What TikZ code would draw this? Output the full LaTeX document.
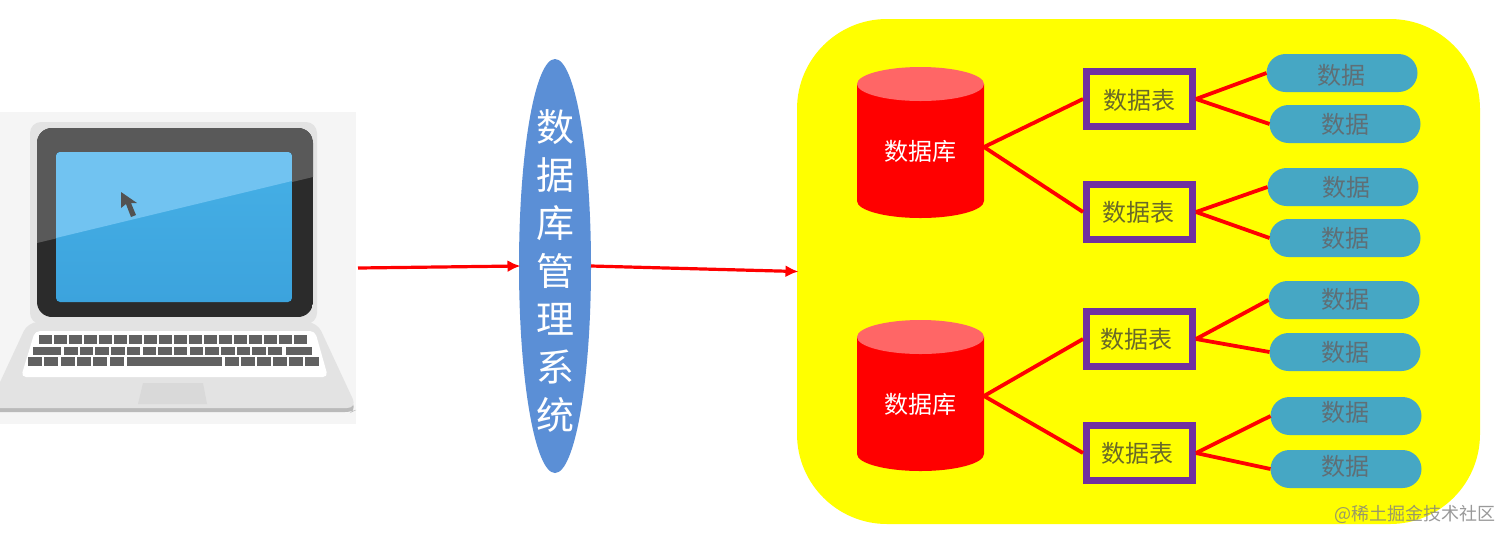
\documentclass[tikz,border=0pt]{standalone}
\usepackage{fontspec}
\setmainfont{Noto Sans CJK SC}
\usetikzlibrary{shapes.geometric,shapes.misc,arrows.meta}
\definecolor{wire}{HTML}{FF0000}
\definecolor{bgyellow}{HTML}{FFFF00}
\definecolor{cylred}{HTML}{FF0000}
\definecolor{cyltop}{HTML}{FF6666}
\definecolor{purp}{HTML}{7030A0}
\definecolor{pillc}{HTML}{46A7C4}
\definecolor{pilltxt}{HTML}{5F6F76}
\definecolor{tabtxt}{HTML}{6A6A28}
\definecolor{dbmsc}{HTML}{5B8FD6}
\definecolor{screenhi}{HTML}{71C3F1}
\definecolor{screena}{HTML}{46B0E6}
\definecolor{screenb}{HTML}{3CA3DD}
\tikzset{
  link/.style={draw=wire,line width=3.8pt},
  flow/.style={draw=wire,line width=3.2pt,shorten >=-1.5pt,-{Latex[length=13pt,width=12pt]}},
  dbnode/.style={rectangle,inner sep=0pt,outer sep=0pt,minimum width=127pt,minimum height=142pt,text=white,font=\fontsize{24}{28}\selectfont},
  tablenode/.style={rectangle,draw=purp,line width=7pt,fill=bgyellow,minimum width=106pt,minimum height=55pt,inner sep=0pt,text=tabtxt,font=\fontsize{24}{28}\selectfont},
  pill/.style={rounded rectangle,fill=pillc,inner sep=0pt,outer sep=0pt,minimum width=151pt,minimum height=38pt,text=pilltxt,font=\fontsize{24}{28}\selectfont},
}
\newcommand{\cylshape}[2]{% centre x, top y
  \fill[cylred] (#1-63.5,#2+17) -- (#1-63.5,#2+134) arc[start angle=180,end angle=0,x radius=63.5,y radius=17] -- (#1+63.5,#2+17) -- cycle;
  \fill[cyltop] (#1,#2+17) ellipse[x radius=63.5,y radius=17];
}
% text offset from a node's centre: dx (right), dy (down), text
\newcommand{\offtext}[3]{\makebox[0pt]{\kern#1pt\kern#1pt\raisebox{\dimexpr-#2pt-9pt\relax}[0pt][0pt]{#3}}}
\begin{document}
\begin{tikzpicture}[x=1pt,y=-1pt]
\useasboundingbox (0,0) rectangle (1512,542);
\fill[white] (0,0) rectangle (1512,542);
% laptop
\node[rectangle,fill=black!4,inner sep=0pt,outer sep=0pt,minimum width=356pt,minimum height=312pt] (laptop) at (178,268) {};
\begin{scope}
  \path[clip] (0,112) rectangle (356,424);
  \fill[black!27,rounded corners=7pt] (30,325) -- (315,325) -- (356,410) -- (352,412) -- (-12,412) -- cycle;
  \fill[black!11,rounded corners=10pt] (28,322) -- (317,322) -- (357,408) -- (-12,408) -- cycle;
\end{scope}
\fill[black!15] (143,383) -- (203,383) -- (207,404) -- (138,404) -- cycle;
\fill[black!11,rounded corners=11pt] (30,122) rectangle (317,324);
\begin{scope}
  \path[clip,rounded corners=15pt] (37,128) rectangle (313,317);
  \fill[black!83] (37,128) rectangle (313,317);
  \fill[black!65] (37,128) -- (313,128) -- (313,177) -- (37,243) -- cycle;
\end{scope}
\begin{scope}
  \path[clip,rounded corners=4pt] (56,152) rectangle (292,302);
  \fill[top color=screena,bottom color=screenb] (56,152) rectangle (292,302);
  \fill[screenhi] (56,152) -- (292,152) -- (292,181) -- (56,238) -- cycle;
\end{scope}
\fill[black!68] (121,192) -- (121,208) -- (126,204) -- (131,217) -- (136,215) -- (131,203) -- (137,203) -- cycle;
\fill[white,rounded corners=5pt] (35,331) -- (315,331) -- (328,377) -- (21,377) -- cycle;
\foreach \i in {0,...,17} {
  \fill[black!62] ({39+\i*15.02},335) rectangle ({39+\i*15.02+13},344);
}
\fill[black!62] (33,347) rectangle (61,355);
\foreach \i in {0,...,13} {
  \fill[black!62] ({64+\i*15.7},347) rectangle ({64+\i*15.7+13.5},355);
}
\fill[black!62] (286,347) rectangle (312,355);
\foreach \i in {0,...,5} {
  \fill[black!62] ({28+\i*16.3},357) rectangle ({28+\i*16.3+14},366);
  \fill[black!62] ({225+\i*16},357) rectangle ({225+\i*16+14},366);
}
\fill[black!62] (127,357) rectangle (222,366);
% store
\node[rectangle,rounded corners=90pt,fill=bgyellow,inner sep=0pt,outer sep=0pt,minimum width=683pt,minimum height=505pt] (store) at (1138.5,271.5) {};
% dbms
\node[ellipse,fill=dbmsc,inner sep=0pt,outer sep=0pt,minimum width=72pt,minimum height=414pt,text=white,font=\fontsize{38}{48}\selectfont] (dbms) at (555,266) {\raisebox{-11pt}[0pt][0pt]{\makebox[0pt]{\parbox{40pt}{\centering 数\\据\\库\\管\\理\\系\\统}}}};
% databases
\cylshape{920.5}{67}
\cylshape{920.5}{320}
\node[dbnode] (db1) at (920.5,147) {\offtext{0}{4}{数据库}};
\node[dbnode] (db2) at (920.5,396) {\offtext{0}{8}{数据库}};
% tables
\node[tablenode] (t1) at (1139.5,99) {\offtext{0}{1}{数据表}};
\node[tablenode] (t2) at (1139.5,212) {\offtext{-1}{0}{数据表}};
\node[tablenode] (t3) at (1139.5,339) {\offtext{-3}{0}{数据表}};
\node[tablenode] (t4) at (1139.5,453) {\offtext{-2}{0}{数据表}};
% pills
\node[pill] (p1) at (1342,73) {\offtext{-1}{2}{数据}};
\node[pill] (p2) at (1345,124) {\offtext{0}{0}{数据}};
\node[pill] (p3) at (1343,187) {\offtext{3}{0}{数据}};
\node[pill] (p4) at (1345,238) {\offtext{0}{0}{数据}};
\node[pill] (p5) at (1344,300) {\offtext{1}{-1}{数据}};
\node[pill] (p6) at (1345,352) {\offtext{0}{0}{数据}};
\node[pill] (p7) at (1346,416) {\offtext{-1}{-4}{数据}};
\node[pill] (p8) at (1346,469) {\offtext{-1}{-3}{数据}};
% connectors
\coordinate (lapout) at ([xshift=2pt]laptop.east);
\draw[flow] (lapout) -- (dbms.west);
\draw[flow] (dbms.east) -- (store.west);
\draw[link] (db1.east) -- (t1.west);
\draw[link] (db1.east) -- (t2.west);
\draw[link] (db2.east) -- (t3.west);
\draw[link] (db2.east) -- (t4.west);
\draw[link] (t1.east) -- (p1.west);
\draw[link] (t1.east) -- (p2.west);
\draw[link] (t2.east) -- (p3.west);
\draw[link] (t2.east) -- (p4.west);
\draw[link] (t3.east) -- (p5.west);
\draw[link] (t3.east) -- (p6.west);
\draw[link] (t4.east) -- (p7.west);
\draw[link] (t4.east) -- (p8.west);
% watermark
\node[text=black!50,opacity=.8,inner sep=0pt,font=\fontsize{18}{20}\selectfont] (mark) at (1414.5,514) {@稀土掘金技术社区};
\end{tikzpicture}
\end{document}
